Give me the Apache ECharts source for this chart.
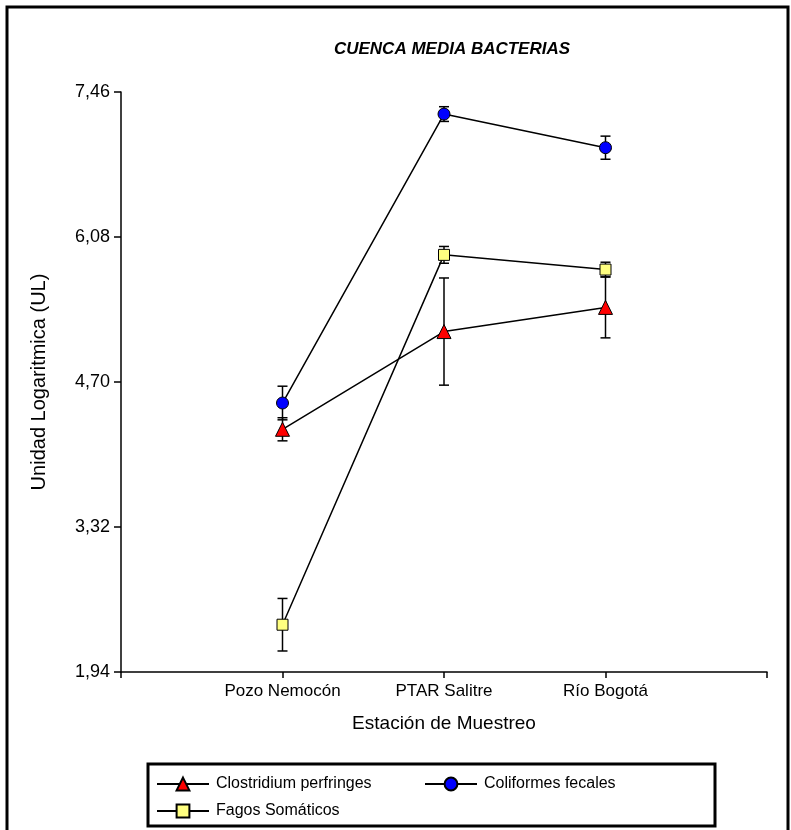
<!DOCTYPE html>
<html><head><meta charset="utf-8">
<script src="https://cdn.jsdelivr.net/npm/echarts@6/dist/echarts.min.js"></script>
<style>html,body{margin:0;padding:0;background:#fff}#c{width:791px;height:830px}</style>
</head><body><div id="c"></div>
<script>
const stations = ['Pozo Nemocón', 'PTAR Salitre', 'Río Bogotá'];
const yTicks = [1.94, 3.32, 4.70, 6.08, 7.46];
const clostridium = [4.25, 5.18, 5.41];
const clostridiumErr = [0.11, 0.51, 0.29];
const coliformes = [4.50, 7.25, 6.93];
const coliformesErr = [0.16, 0.07, 0.11];
const fagos = [2.39, 5.91, 5.77];
const fagosErr = [0.25, 0.08, 0.07];
const seriesNames = ['Clostridium perfringes', 'Coliformes fecales', 'Fagos Somáticos'];

const FONT = 'Liberation Sans, Arial, sans-serif';
const categories = [''].concat(stations, ['']);

function lineSeries(name, vals, symbol, size, color) {
  return {
    name: name, type: 'line', z: 3,
    data: vals.map((v, i) => [i + 1, v]),
    symbol: symbol, symbolSize: size,
    itemStyle: { color: color, borderColor: '#000', borderWidth: 1 },
    lineStyle: { color: '#000', width: 1.5 },
    emphasis: { disabled: true },
    animation: false
  };
}
function errSeries(vals, errs) {
  return {
    type: 'custom', silent: true, z: 2, animation: false,
    data: vals.map((v, i) => [i + 1, v - errs[i], v + errs[i]]),
    encode: { x: 0, y: [1, 2] },
    renderItem: function (params, api) {
      const p1 = api.coord([api.value(0), api.value(1)]);
      const p2 = api.coord([api.value(0), api.value(2)]);
      const x = p1[0], w = 5;
      const st = { stroke: '#000', lineWidth: 1.5 };
      return { type: 'group', children: [
        { type: 'line', shape: { x1: x, y1: p1[1], x2: x, y2: p2[1] }, style: st },
        { type: 'line', shape: { x1: x - w, y1: p1[1], x2: x + w, y2: p1[1] }, style: st },
        { type: 'line', shape: { x1: x - w, y1: p2[1], x2: x + w, y2: p2[1] }, style: st }
      ]};
    }
  };
}
function legendAt(name, left, top) {
  return {
    data: [name], left: left, top: top, orient: 'horizontal',
    itemWidth: 52, itemHeight: 16, itemGap: 0, selectedMode: false,
    textStyle: { fontFamily: FONT, fontSize: 16, color: '#000', padding: [0, 0, 0, 2] }
  };
}

const chart = echarts.init(document.getElementById('c'), null, { renderer: 'canvas' });
chart.setOption({
  backgroundColor: '#fff',
  animation: false,
  title: {
    text: 'CUENCA MEDIA BACTERIAS', left: 447, top: 36, textAlign: 'center',
    textStyle: { fontFamily: FONT, fontSize: 17, fontWeight: 'bold', fontStyle: 'italic', color: '#000' }
  },
  grid: { left: 121, right: 24, top: 92, bottom: 158, containLabel: false },
  xAxis: {
    type: 'category', data: categories, boundaryGap: false,
    name: 'Estación de Muestreo', nameLocation: 'middle', nameGap: 42,
    nameTextStyle: { fontFamily: FONT, fontSize: 19, color: '#000' },
    axisLine: { lineStyle: { color: '#000', width: 1.5 } },
    axisTick: { length: 6, lineStyle: { color: '#000', width: 1.5 } },
    axisLabel: { fontFamily: FONT, fontSize: 17, color: '#000', margin: 11, interval: 0 },
    splitLine: { show: false }
  },
  yAxis: {
    type: 'value', min: 1.94, max: 7.46,
    name: 'Unidad Logaritmica (UL)', nameLocation: 'middle', nameGap: 72,
    nameTextStyle: { fontFamily: FONT, fontSize: 20, color: '#000' },
    axisLine: { show: true, lineStyle: { color: '#000', width: 1.5 } },
    axisTick: { show: true, length: 7, customValues: yTicks, lineStyle: { color: '#000', width: 1.5 } },
    axisLabel: { fontFamily: FONT, fontSize: 18, color: '#000', margin: 11, customValues: yTicks,
      formatter: v => v.toFixed(2).replace('.', ',') },
    splitLine: { show: false }
  },
  legend: [
    legendAt(seriesNames[0], 151, 771),
    legendAt(seriesNames[1], 419, 771),
    legendAt(seriesNames[2], 151, 798)
  ],
  graphic: [
    { type: 'rect', shape: { x: 7, y: 7, width: 781, height: 860 }, style: { fill: 'none', stroke: '#000', lineWidth: 3 }, silent: true },
    { type: 'rect', shape: { x: 148, y: 764, width: 567, height: 62 }, style: { fill: 'none', stroke: '#000', lineWidth: 3 }, silent: true }
  ],
  series: [
    errSeries(clostridium, clostridiumErr),
    errSeries(coliformes, coliformesErr),
    errSeries(fagos, fagosErr),
    lineSeries(seriesNames[0], clostridium, 'triangle', 14, '#ff0000'),
    lineSeries(seriesNames[1], coliformes, 'circle', 12, '#0000ff'),
    lineSeries(seriesNames[2], fagos, 'rect', 11, '#ffff80')
  ]
});
</script>
</body></html>
